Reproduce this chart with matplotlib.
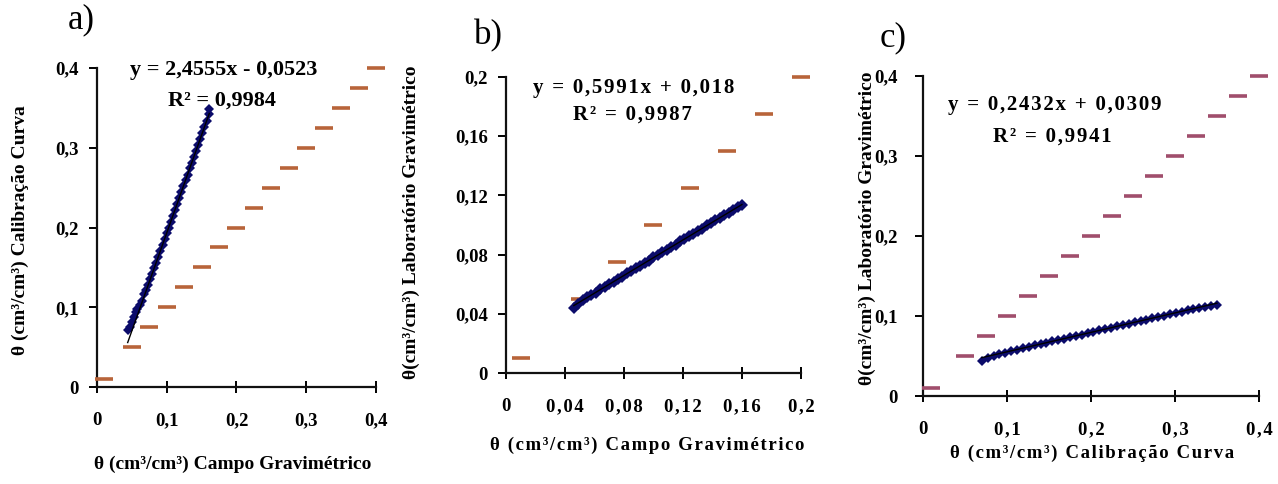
import matplotlib
matplotlib.use("Agg")
import matplotlib.pyplot as plt

plt.rcParams['font.family'] = ['Liberation Serif', 'DejaVu Serif']

# 1:1 reference marks
ref_ac = [0.01, 0.05, 0.075, 0.1, 0.125, 0.15, 0.175, 0.2, 0.225, 0.25,
          0.275, 0.3, 0.325, 0.35, 0.375, 0.4]
ref_b = [0.01, 0.05, 0.075, 0.1, 0.125, 0.15, 0.175, 0.2]

# a) Campo gravimétrico vs curva de calibração
a_x = [0.044, 0.047, 0.050, 0.053, 0.056, 0.058, 0.061, 0.064, 0.067, 0.070,
       0.073, 0.076, 0.079, 0.082, 0.085, 0.088, 0.091, 0.094, 0.097, 0.100,
       0.103, 0.106, 0.109, 0.112, 0.115, 0.118, 0.121, 0.124, 0.127, 0.130,
       0.133, 0.136, 0.139, 0.142, 0.145, 0.148, 0.151, 0.154, 0.157, 0.160,
       0.161]
a_y = [0.072, 0.075, 0.082, 0.088, 0.094, 0.098, 0.103, 0.108, 0.116, 0.122,
       0.128, 0.135, 0.142, 0.149, 0.156, 0.163, 0.170, 0.178, 0.185, 0.193,
       0.200, 0.207, 0.215, 0.222, 0.229, 0.237, 0.244, 0.252, 0.259, 0.266,
       0.274, 0.281, 0.289, 0.296, 0.303, 0.311, 0.318, 0.326, 0.334, 0.342,
       0.348]

# b) Campo gravimétrico vs laboratório gravimétrico
b_x = [0.046, 0.049, 0.052, 0.055, 0.058, 0.061, 0.064, 0.067, 0.070, 0.073,
       0.076, 0.079, 0.082, 0.085, 0.088, 0.091, 0.094, 0.097, 0.100, 0.103,
       0.106, 0.109, 0.112, 0.115, 0.118, 0.121, 0.124, 0.127, 0.130, 0.133,
       0.136, 0.139, 0.142, 0.145, 0.148, 0.151, 0.154, 0.157, 0.160]
b_y = [0.0440, 0.0468, 0.0490, 0.0512, 0.0530, 0.0542, 0.0566, 0.0578, 0.0601,
       0.0615, 0.0637, 0.0651, 0.0673, 0.0688, 0.0709, 0.0723, 0.0745, 0.0760,
       0.0781, 0.0795, 0.0817, 0.0831, 0.0853, 0.0868, 0.0889, 0.0903, 0.0925,
       0.0940, 0.0961, 0.0975, 0.0997, 0.1011, 0.1033, 0.1047, 0.1069, 0.1083,
       0.1104, 0.1119, 0.1132]

# c) Curva de calibração vs laboratório gravimétrico
c_x = [0.070, 0.077, 0.084, 0.091, 0.098, 0.105, 0.112, 0.119, 0.126, 0.133,
       0.140, 0.147, 0.154, 0.161, 0.168, 0.175, 0.182, 0.189, 0.196, 0.203,
       0.210, 0.217, 0.224, 0.231, 0.238, 0.245, 0.252, 0.259, 0.266, 0.273,
       0.280, 0.287, 0.294, 0.301, 0.308, 0.315, 0.322, 0.329, 0.336, 0.343,
       0.350]
c_y = [0.0440, 0.0475, 0.0500, 0.0522, 0.0541, 0.0560, 0.0580, 0.0598, 0.0616,
       0.0633, 0.0650, 0.0668, 0.0684, 0.0702, 0.0718, 0.0734, 0.0751, 0.0768,
       0.0785, 0.0802, 0.0819, 0.0836, 0.0853, 0.0870, 0.0887, 0.0903, 0.0920,
       0.0937, 0.0954, 0.0970, 0.0987, 0.1003, 0.1020, 0.1036, 0.1053, 0.1069,
       0.1085, 0.1101, 0.1116, 0.1131, 0.1142]

# fitted trend lines (slope, intercept)
fit_a = (2.4555, -0.0523)
fit_b = (0.5991, 0.018)
fit_c = (0.2432, 0.0309)

ticks_04 = [0, 0.1, 0.2, 0.3, 0.4]
labels_04 = ["0", "0,1", "0,2", "0,3", "0,4"]
ticks_02 = [0, 0.04, 0.08, 0.12, 0.16, 0.2]
labels_02 = ["0", "0,04", "0,08", "0,12", "0,16", "0,2"]

NAVY = "#0b0b6a"
ORANGE = "#b8643a"
MAUVE = "#a04e6c"
HAIR = "\u200a"


def spaced(s):
    """Loosen the letter spacing of a label."""
    return HAIR.join(s)


fig = plt.figure(figsize=(12.78, 4.84), dpi=100)

ax_a = fig.add_axes([0.0759, 0.2004, 0.2183, 0.6591])
ax_b = fig.add_axes([0.3959, 0.2293, 0.2308, 0.6116])
ax_c = fig.add_axes([0.7222, 0.1818, 0.2629, 0.6612])


def style(ax, ticks, labels, lim, loose=False, ypad=7):
    ax.set_xlim(0, lim)
    ax.set_ylim(0, lim)
    shown = [spaced(t) for t in labels] if loose else labels
    ax.set_xticks(ticks)
    ax.set_xticklabels(shown)
    ax.set_yticks(ticks)
    ax.set_yticklabels(labels)
    for s in ("top", "right"):
        ax.spines[s].set_visible(False)
    for s in ("left", "bottom"):
        ax.spines[s].set_linewidth(1.6)
        ax.spines[s].set_color("#111111")
    ax.tick_params(axis="x", direction="inout", length=8, width=1.4,
                   labelsize=13.5, pad=14)
    ax.tick_params(axis="y", direction="out", length=6, width=1.4,
                   labelsize=13.5, pad=ypad)
    for t in ax.get_xticklabels() + ax.get_yticklabels():
        t.set_fontweight("bold")


def draw(ax, x, y, ref, fit, ref_color, msize):
    ax.plot(ref, ref, linestyle="none", marker="_", markersize=13,
            markeredgewidth=2.6, color=ref_color, clip_on=False, zorder=3)
    ax.plot(x, y, linestyle="none", marker="D", markersize=msize,
            color=NAVY, markeredgewidth=0, zorder=4)
    slope, icpt = fit
    x0, x1 = min(x), max(x)
    ax.plot([x0, x1], [slope * x0 + icpt, slope * x1 + icpt],
            color="black", linewidth=1.0, zorder=5)


draw(ax_a, a_x, a_y, ref_ac, fit_a, ORANGE, 5.5)
draw(ax_b, b_x, b_y, ref_b, fit_b, ORANGE, 6.5)
draw(ax_c, c_x, c_y, ref_ac, fit_c, MAUVE, 5.5)

style(ax_a, ticks_04, labels_04, 0.4)
style(ax_b, ticks_02, labels_02, 0.2, loose=True)
style(ax_c, ticks_04, labels_04, 0.4, loose=True, ypad=12)

eq = dict(fontweight="bold", ha="center", va="center", fontsize=16)
eq_loose = dict(eq, fontsize=15)


def fx(px):
    return px / 1278


def fy(py):
    return 1 - py / 484


# equations
fig.text(fx(224), fy(70), "y = 2,4555x - 0,0523", **eq)
fig.text(fx(222), fy(101), "R² = 0,9984", **eq)
fig.text(fx(634), fy(88), spaced("y = 0,5991x + 0,018"), **eq_loose)
fig.text(fx(632), fy(115), spaced("R² = 0,9987"), **eq_loose)
fig.text(fx(1055), fy(105), spaced("y = 0,2432x + 0,0309"), **eq_loose)
fig.text(fx(1052), fy(137), spaced("R² = 0,9941"), **eq_loose)

# panel letters
fig.text(fx(81), fy(20), "a)", fontsize=25, ha="center", va="center")
fig.text(fx(488), fy(36), "b)", fontsize=25, ha="center", va="center")
fig.text(fx(893), fy(38), "c)", fontsize=25, ha="center", va="center")

lab = dict(fontweight="bold", ha="center", va="center", fontsize=14)
lab_loose = dict(lab, fontsize=13.5)

# axis titles
fig.text(fx(233), fy(464), "θ (cm³/cm³) Campo Gravimétrico", **lab)
fig.text(fx(20), fy(230), "θ (cm³/cm³) Calibração Curva",
         rotation=90, **lab)
fig.text(fx(647), fy(445), spaced("θ (cm³/cm³) Campo Gravimétrico"),
         **lab_loose)
fig.text(fx(411), fy(222), "θ(cm³/cm³) Laboratório Gravimétrico",
         rotation=90, **lab)
fig.text(fx(1092), fy(453), spaced("θ (cm³/cm³) Calibração Curva"),
         **lab_loose)
fig.text(fx(867), fy(228), "θ(cm³/cm³) Laboratório Gravimétrico",
         rotation=90, **lab)

fig.savefig("out.png", dpi=100, facecolor="white")
